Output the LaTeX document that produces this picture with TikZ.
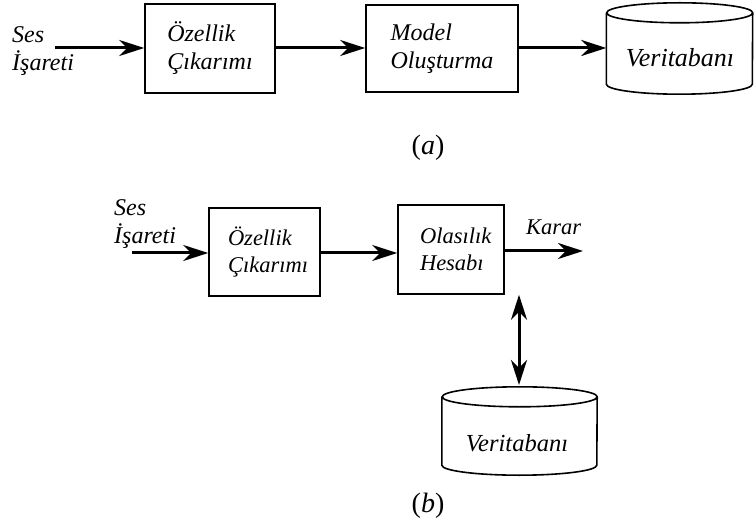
\documentclass[tikz,border=0pt]{standalone}
\usepackage{fontspec}
\setmainfont{Liberation Serif}
\usetikzlibrary{arrows.meta}
\begin{document}
\begin{tikzpicture}[x=1pt,y=-1pt,
  every node/.style={font=\fontsize{24}{28}\selectfont\itshape},
  smalltext/.style={font=\fontsize{22.5}{27}\selectfont\itshape},
  blockbox/.style={draw,line width=1.6pt,inner sep=0pt,align=left},
  flow/.style={line width=3pt,-{Stealth[length=25pt,width=16pt,inset=8pt]}},
  bothflow/.style={line width=3pt,{Stealth[length=25pt,width=16pt,inset=8pt]}-{Stealth[length=25pt,width=16pt,inset=8pt]}},
  dbbody/.style={draw=none,inner sep=0pt},
  dbline/.style={line width=1.6pt},
  plain/.style={align=left,inner sep=0pt},
  caption/.style={font=\fontsize{28}{32}\selectfont}]
\useasboundingbox (0,0) rectangle (754,526);

% ---------- (a) ----------
\node[plain,anchor=west] (inA) at (12,51) {Ses\\İşareti};
\coordinate (inAend) at (55,48);
\node[blockbox,minimum width=130pt,minimum height=89pt] (featA) at (210,48.5) {Özellik\\Çıkarımı};
\node[blockbox,minimum width=152pt,minimum height=87pt] (modelA) at (442,48.5) {Model\\Oluşturma};
\node[dbbody,minimum width=146pt,minimum height=71pt] (dbA) at (679.5,48.5) {};
\draw[dbline] (dbA.north west) -- (dbA.south west)
  arc[start angle=180,end angle=360,x radius=73pt,y radius=10pt]
  -- (dbA.north east)
  arc[start angle=0,end angle=360,x radius=73pt,y radius=10pt];
\node[font=\fontsize{26}{30}\selectfont\itshape] (dbAtxt) at (680,58) {Veritabanı};
\draw[flow] (inAend) -- (featA.west |- inAend);
\draw[flow] (featA.east |- inAend) -- (modelA.west |- inAend);
\draw[flow] (modelA.east |- inAend) -- (dbA.west |- inAend);
\node[caption] (capA) at (428,148) {(\textit{a})};

% ---------- (b) ----------
\node[plain,anchor=west] (inB) at (114,224) {Ses\\İşareti};
\coordinate (inBend) at (132,253);
\node[blockbox,smalltext,minimum width=111pt,minimum height=88pt,text width=73pt] (featB) at (264.5,252) {Özellik\\Çıkarımı};
\node[blockbox,smalltext,minimum width=106pt,minimum height=89pt,text width=62pt] (probB) at (451,249.5) {Olasılık\\Hesabı};
\coordinate (outB) at (583,251);
\node[plain,smalltext,anchor=base west] (karar) at (526,235) {Karar};
\draw[flow] (inBend) -- (featB.west |- inBend);
\draw[flow] (featB.east |- inBend) -- (probB.west |- inBend);
\draw[flow] (probB.east |- outB) -- (outB);
\node[dbbody,minimum width=155pt,minimum height=68pt] (dbB) at (519.5,431) {};
\draw[dbline] (dbB.north west) -- (dbB.south west)
  arc[start angle=180,end angle=360,x radius=77.5pt,y radius=10pt]
  -- (dbB.north east)
  arc[start angle=0,end angle=360,x radius=77.5pt,y radius=10pt];
\node[font=\fontsize{24.5}{29}\selectfont\itshape] (dbBtxt) at (517,443) {Veritabanı};
\coordinate (dbBtop) at (519,385);
\draw[bothflow] (probB.south -| dbBtop) -- (dbBtop);
\node[caption] (capB) at (428,506) {(\textit{b})};
\end{tikzpicture}
\end{document}
